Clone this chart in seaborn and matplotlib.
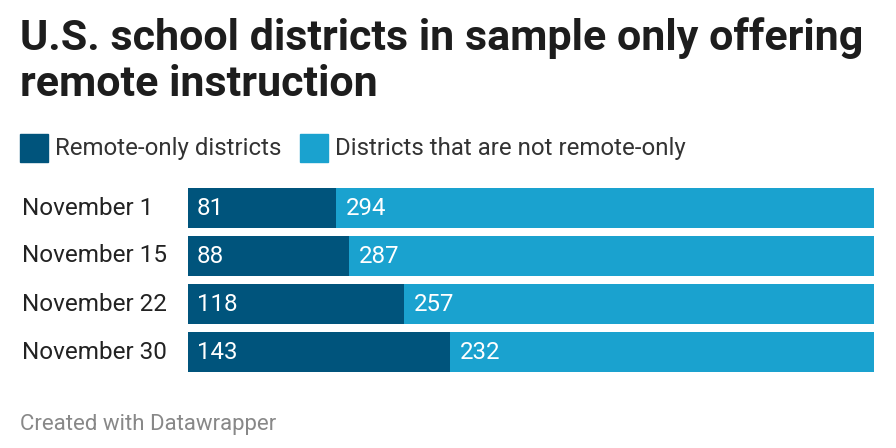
import pandas as pd
import seaborn as sns
import matplotlib.pyplot as plt
from matplotlib.patches import Rectangle

# Data
dates = ["November 1", "November 15", "November 22", "November 30"]
remote_only = [81, 88, 118, 143]
not_remote = [294, 287, 257, 232]

DARK = "#00547c"
LIGHT = "#1aa2cf"

df = pd.DataFrame({"date": dates, "remote": remote_only, "not_remote": not_remote})
df["total"] = df["remote"] + df["not_remote"]

sns.set_theme(style="white")
plt.rcParams["font.family"] = ["Roboto", "DejaVu Sans"]

fig = plt.figure(figsize=(8.96, 4.48), dpi=100)
ax = fig.add_axes([188 / 896, 1 - 372 / 448, (874 - 188) / 896, (372 - 188) / 448])

# light bar = full total, dark bar drawn on top
sns.barplot(data=df, x="total", y="date", color=LIGHT, width=40 / 48,
            saturation=1, ax=ax, orient="h", linewidth=0)
sns.barplot(data=df, x="remote", y="date", color=DARK, width=40 / 48,
            saturation=1, ax=ax, orient="h", linewidth=0)

ax.set_xlim(0, df["total"].max())
ax.set_ylim(3 + 20 / 48, -20 / 48)
ax.set_xlabel("")
ax.set_ylabel("")
ax.set_xticks([])
ax.set_yticks([])
for s in ax.spines.values():
    s.set_visible(False)

# value labels
for i, row in df.iterrows():
    ax.annotate(str(row["remote"]), (0, i), xytext=(9, 0), textcoords="offset pixels",
                va="center", ha="left", color="white", fontsize=17.3)
    ax.annotate(str(row["not_remote"]), (row["remote"], i), xytext=(10, 0),
                textcoords="offset pixels", va="center", ha="left",
                color="white", fontsize=17.3)
    fig.text(22 / 896, 1 - (208 + 48 * i) / 448, row["date"], va="center",
             ha="left", fontsize=17.5, color="#222222")

# title
fig.text(20 / 896, 1 - 38 / 448, "U.S. school districts in sample only offering",
         fontsize=31, fontweight="bold", va="center", ha="left", color="#1d1d1d")
fig.text(20 / 896, 1 - 84 / 448, "remote instruction",
         fontsize=31, fontweight="bold", va="center", ha="left", color="#1d1d1d")

# legend
fig.patches.append(Rectangle((20 / 896, 1 - 162 / 448), 28 / 896, 28 / 448,
                             transform=fig.transFigure, color=DARK))
fig.text(55 / 896, 1 - 148 / 448, "Remote-only districts", fontsize=17.3,
         va="center", ha="left", color="#333333")
fig.patches.append(Rectangle((300 / 896, 1 - 162 / 448), 28 / 896, 28 / 448,
                             transform=fig.transFigure, color=LIGHT))
fig.text(335 / 896, 1 - 148 / 448, "Districts that are not remote-only", fontsize=17.3,
         va="center", ha="left", color="#333333")

fig.text(20 / 896, 1 - 424 / 448, "Created with Datawrapper", fontsize=16,
         va="center", ha="left", color="#888888")

fig.savefig("out.png", dpi=100)
